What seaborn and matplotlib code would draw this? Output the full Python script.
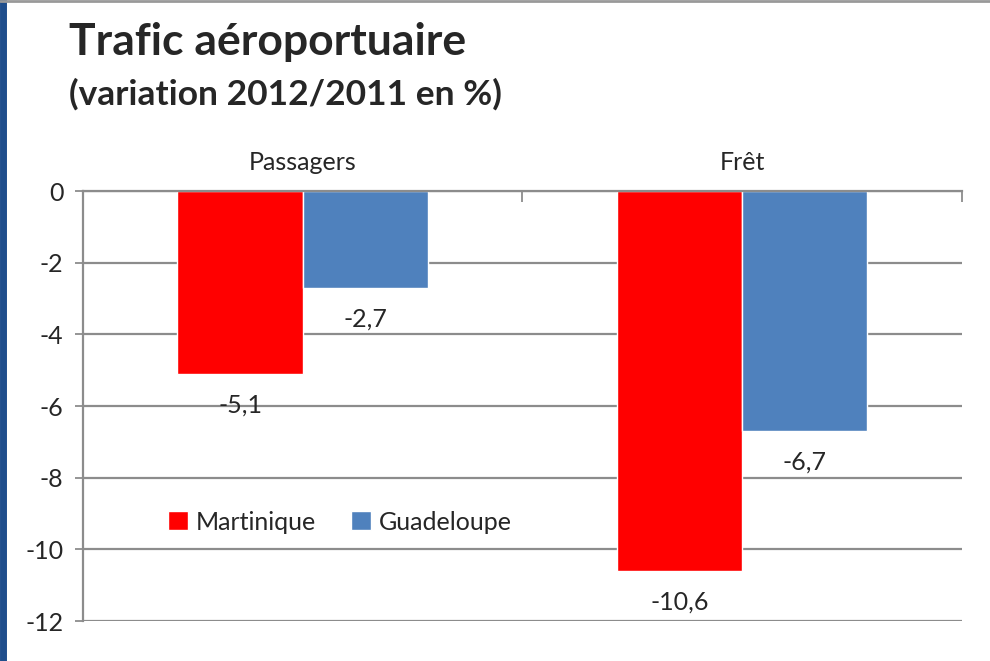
import pandas as pd
import numpy as np
import matplotlib.pyplot as plt
import seaborn as sns
from matplotlib.lines import Line2D

# Data
categories = ['Passagers', 'Frêt']
martinique = [-5.1, -10.6]
guadeloupe = [-2.7, -6.7]
labels_martinique = ['-5,1', '-10,6']
labels_guadeloupe = ['-2,7', '-6,7']
series = ['Martinique', 'Guadeloupe']

df = pd.DataFrame({
    'categorie': categories * 2,
    'region': [series[0]] * 2 + [series[1]] * 2,
    'valeur': martinique + guadeloupe,
})

sns.set_style('white')
plt.rcParams['font.family'] = ['Lato', 'DejaVu Sans']

fs = 18  # body text size

fig = plt.figure(figsize=(9.9, 6.61), dpi=100)
ax = fig.add_axes([0.0838, 0.0605, 0.8879, 0.6505])

sns.barplot(data=df, x='categorie', y='valeur', hue='region', order=categories,
            hue_order=series, palette=['#FF0000', '#4F81BD'], width=0.57,
            saturation=1, ax=ax, legend=True)

ax.set_ylim(-12, 0)
ax.set_xlim(-0.5, 1.5)
ax.set_yticks(np.arange(-12, 1, 2))
ax.set_yticklabels([str(v) for v in range(-12, 1, 2)])
ax.yaxis.grid(True, color='#8c8c8c', linewidth=1.6)
ax.set_axisbelow(True)
ax.set_xlabel('')
ax.set_ylabel('')

# category axis sits at the top (value 0)
ax.xaxis.tick_top()
ax.set_xticks([-0.5, 0.5, 1.5], minor=True)
ax.tick_params(axis='x', which='major', length=0, labelsize=fs, pad=12)
ax.tick_params(axis='x', which='minor', length=8, width=1.3, color='#8c8c8c',
               direction='in', top=True, bottom=False)
ax.tick_params(axis='y', length=6, width=1.3, color='#8c8c8c', labelsize=fs,
               pad=8, left=True)

for side in ['right', 'bottom']:
    ax.spines[side].set_visible(False)
ax.spines['left'].set_color('#8c8c8c')
ax.spines['left'].set_linewidth(1.6)
ax.spines['top'].set_color('#8c8c8c')
ax.spines['top'].set_linewidth(1.6)

# data labels below the bars
for cont, labs in zip(ax.containers, [labels_martinique, labels_guadeloupe]):
    for bar, lab in zip(cont, labs):
        ax.annotate(lab, (bar.get_x() + bar.get_width() / 2, bar.get_height()),
                    xytext=(0, -14), textcoords='offset points',
                    ha='center', va='top', fontsize=fs)

ax.legend(loc='center left', bbox_to_anchor=(0.097, 0.23), ncol=2, frameon=False,
          fontsize=fs, handlelength=0.8, handleheight=0.8, borderpad=0,
          borderaxespad=0, handletextpad=0.3, columnspacing=1.4)

fig.text(0.07, 0.937, 'Trafic aéroportuaire', fontsize=32, fontweight='bold',
         va='center', ha='left')
fig.text(0.07, 0.858, '(variation 2012/2011 en %)', fontsize=25.5,
         fontweight='bold', va='center', ha='left')

# frame of the slide: dark blue left edge, grey top edge
fig.add_artist(Line2D([0.003, 0.003], [0, 1], color='#1F4E8C', linewidth=5,
                      transform=fig.transFigure))
fig.add_artist(Line2D([0, 1], [0.998, 0.998], color='#999999', linewidth=2,
                      transform=fig.transFigure))

fig.savefig('out.png', dpi=100)
